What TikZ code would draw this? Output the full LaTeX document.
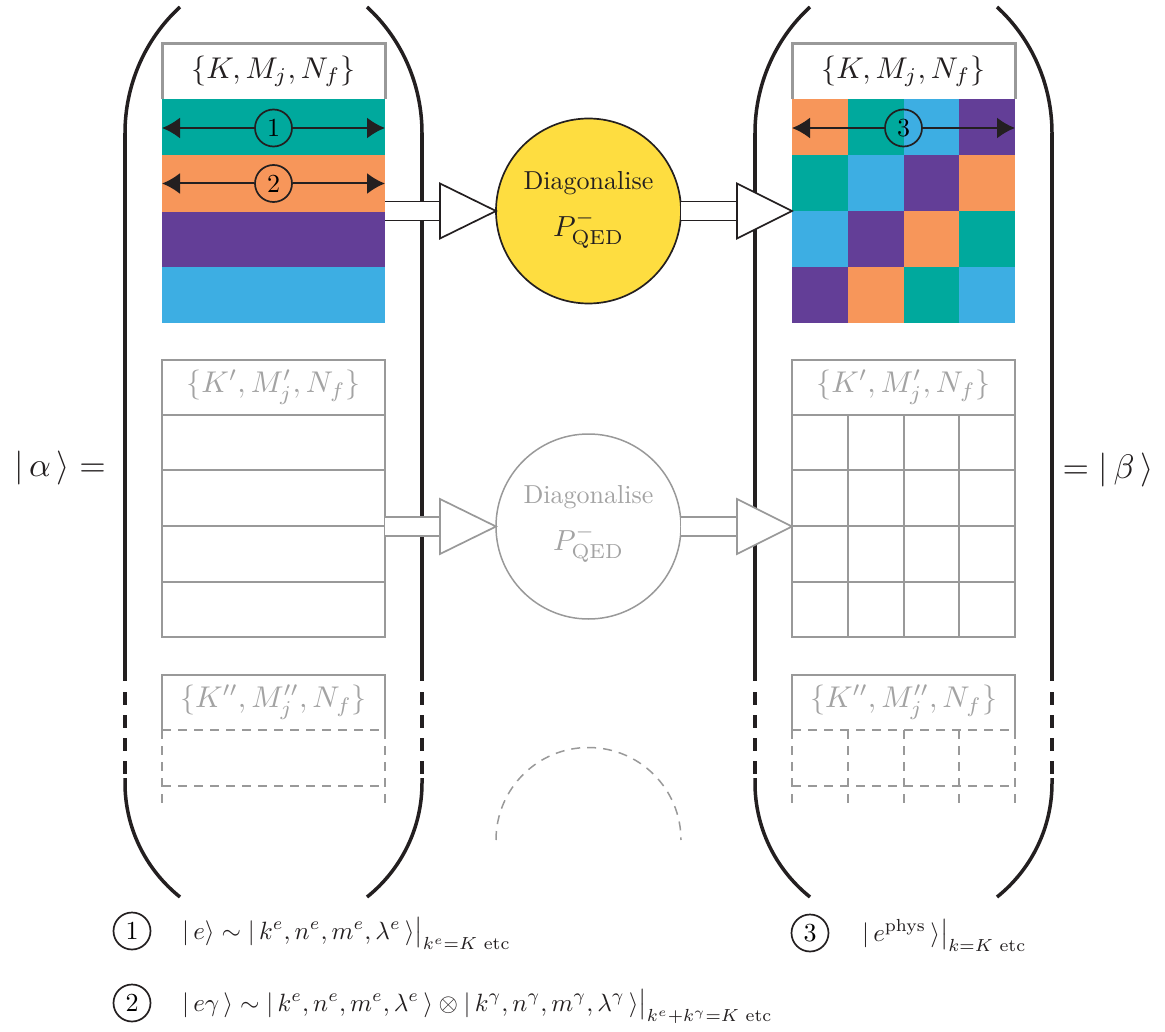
\documentclass[tikz,border=0pt]{standalone}
\usepackage{graphicx}
\usepackage{amsmath}
\usetikzlibrary{arrows.meta}
\definecolor{cteal}{HTML}{00A99D}
\definecolor{corange}{HTML}{F7965A}
\definecolor{cpurple}{HTML}{633E97}
\definecolor{cblue}{HTML}{3DAEE3}
\definecolor{cyellow}{HTML}{FEDD40}
\definecolor{cdark}{HTML}{231F20}
\definecolor{cgray}{HTML}{999999}
\definecolor{cgraytxt}{HTML}{A3A3A3}
\newcommand\myket[1]{|\,#1\,\rangle}
\newcommand\hollowarrow[5]{%
  \fill[white] (#1,#4-9.5) rectangle (#2,#4+9.5);
  \draw[#5,line width=1.7pt] (#1,#4-9.5) -- (#2,#4-9.5) (#1,#4+9.5) -- (#2,#4+9.5);
  \draw[#5,line width=1.7pt,fill=white,line join=miter] (#2,#4-27.5) -- (#3,#4) -- (#2,#4+27.5) -- cycle;}
\begin{document}
\begin{tikzpicture}[x=1pt,y=-1pt,
  paren/.style={cdark,line width=3.5pt},
  parendash/.style={cdark,line width=3.5pt,dash pattern=on 13pt off 10pt},
  hdrtext/.style={inner sep=0pt},
  thingray/.style={cgray,line width=1.5pt},
  dashgray/.style={cgray,line width=1.5pt,dash pattern=on 9pt off 7pt},
  numcirc/.style={circle,draw=cdark,line width=1.7pt,minimum size=37pt,inner sep=0pt},
  stripearrow/.style={cdark,line width=2pt,-{Latex[length=18pt,width=21pt]}},
  legtext/.style={anchor=base west,inner sep=0pt,text=cdark},
  diagtext/.style={inner sep=0pt}]
\useasboundingbox (0,0) rectangle (1165,1032);

% ---------- parentheses ----------
\foreach \xl/\xr in {125/422, 755/1052}{
  \draw[paren] (\xl,133) .. controls (\xl,85) and (\xl+20,39) .. (\xl+55,7);
  \draw[paren] (\xr,133) .. controls (\xr,85) and (\xr-20,39) .. (\xr-55,7);
  \draw[paren] (\xl,133) -- (\xl,681);
  \draw[paren] (\xr,133) -- (\xr,681);
  \draw[parendash] (\xl,692) -- (\xl,775);
  \draw[parendash] (\xr,692) -- (\xr,775);
  \draw[paren] (\xl,778) -- (\xl,783) .. controls (\xl,827) and (\xl+20,869) .. (\xl+55,897);
  \draw[paren] (\xr,778) -- (\xr,783) .. controls (\xr,827) and (\xr-20,869) .. (\xr-55,897);
}

% ---------- top left column ----------
\fill[cteal] (162,99) rectangle (385,155);
\fill[corange] (162,155) rectangle (385,212);
\fill[cpurple] (162,212) rectangle (385,267);
\fill[cblue] (162,267) rectangle (385,323);
\draw[cgray,line width=3pt,fill=white] (162,99) -- (162,44) -- (385,44) -- (385,99);
\node[hdrtext,text=cdark] (hL1) at (273.5,71.5) {\scalebox{3.0}{$\{K, M_j, N_f\}$}};

\node[numcirc] (c1) at (273.5,128) {\scalebox{2.6}{1}};
\node[numcirc] (c2) at (273.5,183.5) {\scalebox{2.6}{2}};
\draw[stripearrow] (c1.west) -- (162,128);
\draw[stripearrow] (c1.east) -- (385,128);
\draw[stripearrow] (c2.west) -- (162,183.5);
\draw[stripearrow] (c2.east) -- (385,183.5);

% ---------- top right column ----------
\foreach \r/\ca/\cb/\cc/\cd in {0/corange/cteal/cblue/cpurple,
                                1/cteal/cblue/cpurple/corange,
                                2/cblue/cpurple/corange/cteal,
                                3/cpurple/corange/cteal/cblue}{
  \fill[\ca] (792,99+56*\r) rectangle (848,155+56*\r);
  \fill[\cb] (848,99+56*\r) rectangle (904,155+56*\r);
  \fill[\cc] (904,99+56*\r) rectangle (959,155+56*\r);
  \fill[\cd] (959,99+56*\r) rectangle (1015,155+56*\r);
}
\draw[cgray,line width=3pt,fill=white] (792,99) -- (792,44) -- (1015,44) -- (1015,99);
\node[hdrtext,text=cdark] (hR1) at (903.5,71.5) {\scalebox{3.0}{$\{K, M_j, N_f\}$}};
\node[numcirc] (c3) at (903.5,128) {\scalebox{2.6}{3}};
\draw[stripearrow] (c3.west) -- (792,128);
\draw[stripearrow] (c3.east) -- (1015,128);

% ---------- top diagonalise ----------
\node[circle,draw=cdark,line width=1.7pt,fill=cyellow,minimum size=185pt,inner sep=0pt] (d1) at (588.5,211) {};
\node[diagtext,text=cdark] (d1a) at (588.5,183) {\scalebox{2.6}{Diagonalise}};
\node[diagtext,text=cdark] (d1b) at (588.5,230) {\scalebox{2.9}{$P^-_{\mathrm{QED}}$}};
\hollowarrow{385}{440}{496}{211}{cdark}
\hollowarrow{681}{737}{792}{211}{cdark}

% ---------- middle gray blocks ----------
\draw[thingray] (162,360) rectangle (385,637);
\foreach \y in {415,470,526,582}{\draw[thingray] (162,\y) -- (385,\y);}
\node[hdrtext,text=cgraytxt] (hL2) at (273.5,387.5) {\scalebox{3.0}{$\{K', M'_j, N_f\}$}};
\draw[thingray] (792,360) rectangle (1015,637);
\foreach \y in {415,470,526,582}{\draw[thingray] (792,\y) -- (1015,\y);}
\foreach \x in {848,904,959}{\draw[thingray] (\x,415) -- (\x,637);}
\node[hdrtext,text=cgraytxt] (hR2) at (903.5,387.5) {\scalebox{3.0}{$\{K', M'_j, N_f\}$}};

\node[circle,draw=cgray,line width=1.5pt,minimum size=185pt,inner sep=0pt] (d2) at (588.5,526.5) {};
\node[diagtext,text=cgraytxt] (d2a) at (588.5,497) {\scalebox{2.6}{Diagonalise}};
\node[diagtext,text=cgraytxt] (d2b) at (588.5,544) {\scalebox{2.9}{$P^-_{\mathrm{QED}}$}};
\hollowarrow{385}{440}{496}{526.5}{cgray}
\hollowarrow{681}{737}{792}{526.5}{cgray}

% ---------- bottom dashed blocks ----------
\draw[thingray] (162,730) -- (162,675) -- (385,675) -- (385,730);
\node[hdrtext,text=cgraytxt] (hL3) at (273.5,702.5) {\scalebox{3.0}{$\{K'', M''_j, N_f\}$}};
\draw[dashgray] (162,730) -- (385,730);
\draw[dashgray] (162,786) -- (385,786);
\draw[dashgray] (162,730) -- (162,803);
\draw[dashgray] (385,730) -- (385,803);

\draw[thingray] (792,730) -- (792,675) -- (1015,675) -- (1015,730);
\node[hdrtext,text=cgraytxt] (hR3) at (903.5,702.5) {\scalebox{3.0}{$\{K'', M''_j, N_f\}$}};
\draw[dashgray] (792,730) -- (1015,730);
\draw[dashgray] (792,786) -- (1015,786);
\foreach \x in {792,848,904,959,1015}{\draw[dashgray] (\x,730) -- (\x,803);}

\coordinate (d3c) at (588.5,840);
\draw[dashgray] (496,840) arc[start angle=180,end angle=0,radius=92.5pt];

% ---------- alpha / beta ----------
\node[inner sep=0pt,text=cdark] (alpha) at (60,468) {\scalebox{3.4}{$\myket{\alpha} =$}};
\node[inner sep=0pt,text=cdark] (beta) at (1108,470) {\scalebox{3.4}{$= \myket{\beta}$}};

% ---------- legend ----------
\node[numcirc] (l1) at (132,931) {\scalebox{2.6}{1}};
\node[legtext] (l1t) at (182,939) {\scalebox{2.5}{$|\,e\rangle \sim \myket{k^e, n^e, m^e, \lambda^e}\big|_{k^e=K\text{ etc}}$}};
\node[numcirc] (l2) at (132,1003) {\scalebox{2.6}{2}};
\node[legtext] (l2t) at (182,1011) {\scalebox{2.5}{$|\,e\gamma\,\rangle \sim \myket{k^e, n^e, m^e, \lambda^e} \otimes \myket{k^\gamma, n^\gamma, m^\gamma, \lambda^\gamma}\big|_{k^e+k^\gamma=K\text{ etc}}$}};
\node[numcirc] (l3) at (810,933) {\scalebox{2.6}{3}};
\node[legtext] (l3t) at (862,941) {\scalebox{2.5}{$\myket{e^{\mathrm{phys}}}\big|_{k=K\text{ etc}}$}};
\end{tikzpicture}
\end{document}
